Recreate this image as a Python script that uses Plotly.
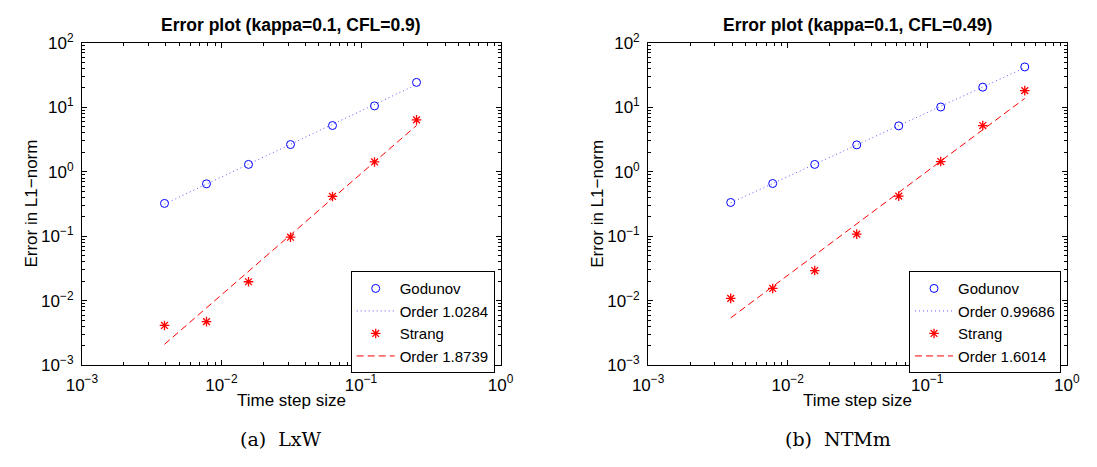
import numpy as np
import plotly.graph_objects as go

# ---------------- data ----------------
dt_lxw = [1/256, 1/128, 1/64, 1/32, 1/16, 1/8, 1/4]
godunov_lxw = [0.323, 0.65, 1.30, 2.64, 5.21, 10.5, 24.3]
strang_lxw = [0.00414, 0.00475, 0.0197, 0.0967, 0.414, 1.42, 6.38]

dt_ntm = [1/256, 1/128, 1/64, 1/32, 1/16, 1/8, 1/4, 1/2]
godunov_ntm = [0.334, 0.658, 1.30, 2.61, 5.15, 10.1, 20.5, 42.2]
strang_ntm = [0.0109, 0.0155, 0.0294, 0.108, 0.419, 1.44, 5.21, 18.1]

titles = ["Error plot (kappa=0.1, CFL=0.9)", "Error plot (kappa=0.1, CFL=0.49)"]
captions = ["(a)&#160;&#160;LxW", "(b)&#160;&#160;NTMm"]
order_labels = [["Order 1.0284", "Order 1.8739"], ["Order 0.99686", "Order 1.6014"]]
tick_vals = [1e-3, 1e-2, 1e-1, 1e0, 1e1, 1e2]
tick_text = ["10<sup>−3</sup>", "10<sup>−2</sup>", "10<sup>−1</sup>",
             "10<sup>0</sup>", "10<sup>1</sup>", "10<sup>2</sup>"]

W, H = 1097, 467
FONT = "Liberation Sans, Arial, sans-serif"
BLUE = "rgb(0,0,255)"
RED = "rgb(255,0,0)"


def fit(x, y):
    c = np.polyfit(np.log10(x), np.log10(y), 1)
    return list(10 ** np.polyval(c, np.log10(x)))


fig = go.Figure()

panels = [
    (dt_lxw, godunov_lxw, strang_lxw),
    (dt_ntm, godunov_ntm, strang_ntm),
]
frames = [(67.7, 497.7), (649.3, 1079.3)]
caption_cx = [272.7, 844.0]
legend_right = [491.7, 1073.4]
top_px, bot_px = 32.3, 370.7

for i, (dt, god, strg) in enumerate(panels):
    xa = "x" if i == 0 else "x2"
    ya = "y" if i == 0 else "y2"
    lg = "legend" if i == 0 else "legend2"
    fig.add_trace(go.Scatter(x=dt, y=fit(dt, god), mode="lines", name=order_labels[i][0],
                             line=dict(color="rgb(90,90,255)", width=1, dash="1px,3px"),
                             xaxis=xa, yaxis=ya, legend=lg, legendrank=2))
    fig.add_trace(go.Scatter(x=dt, y=fit(dt, strg), mode="lines", name=order_labels[i][1],
                             line=dict(color=RED, width=1, dash="7px,4px"), xaxis=xa, yaxis=ya,
                             legend=lg, legendrank=4))
    fig.add_trace(go.Scatter(x=dt, y=god, mode="markers", name="Godunov",
                             marker=dict(symbol="circle-open", size=8, color=BLUE,
                                         line=dict(width=1, color=BLUE)),
                             xaxis=xa, yaxis=ya, legend=lg, legendrank=1))
    fig.add_trace(go.Scatter(x=dt, y=strg, mode="markers", name="Strang",
                             marker=dict(symbol="asterisk-open", size=8, color=RED,
                                         line=dict(width=1.3, color=RED)),
                             xaxis=xa, yaxis=ya, legend=lg, legendrank=3))

axis_common = dict(
    type="log", showline=True, linecolor="black", linewidth=1, mirror="allticks",
    ticks="inside", ticklen=5, tickcolor="black", tickwidth=1,
    showgrid=False, zeroline=False, ticklabelstandoff=4,
    minor=dict(ticks="inside", ticklen=3, tickcolor="black", dtick="D1", showgrid=False),
    tickfont=dict(family=FONT, size=17, color="black"),
)

yd = [1 - bot_px / H, 1 - top_px / H]
for i, (l, r) in enumerate(frames):
    sfx = "" if i == 0 else "2"
    fig.update_layout(**{
        "xaxis" + sfx: dict(axis_common, domain=[l / W, r / W], range=[-3, 0],
                            tickvals=tick_vals[:4], ticktext=tick_text[:4],
                            anchor="y" + sfx),
        "yaxis" + sfx: dict(axis_common, domain=yd, range=[-3, 2],
                            tickvals=tick_vals, ticktext=tick_text,
                            anchor="x" + sfx),
    })

annotations = []
for i, (l, r) in enumerate(frames):
    cx = (l + r) / 2
    annotations.append(dict(x=cx / W, y=1 - 14 / H, xref="paper", yref="paper",
                            text="<b>" + titles[i] + "</b>", showarrow=False,
                            font=dict(family=FONT, size=17.5, color="black"),
                            xanchor="center", yanchor="middle"))
    annotations.append(dict(x=cx / W, y=1 - 408 / H, xref="paper", yref="paper",
                            text="Time step size", showarrow=False,
                            font=dict(family=FONT, size=17, color="black"),
                            xanchor="center", yanchor="middle"))
    annotations.append(dict(x=(l - 52.7) / W, y=1 - 201.5 / H, xref="paper", yref="paper",
                            text="Error in L1−norm", showarrow=False, textangle=-90,
                            font=dict(family=FONT, size=17, color="black"),
                            xanchor="center", yanchor="middle"))
    annotations.append(dict(x=caption_cx[i] / W, y=1 - 448 / H, xref="paper", yref="paper",
                            text=captions[i], showarrow=False,
                            font=dict(family="DejaVu Serif, serif", size=19, color="black"),
                            xanchor="center", yanchor="middle"))

legend_common = dict(
    bgcolor="white", bordercolor="black", borderwidth=1,
    font=dict(family=FONT, size=15, color="black"),
    xanchor="right", yanchor="top", itemwidth=38, tracegroupgap=0,
    traceorder="normal",
)

fig.update_layout(
    width=W, height=H, margin=dict(l=0, r=0, t=0, b=0),
    paper_bgcolor="white", plot_bgcolor="white",
    showlegend=True,
    legend=dict(legend_common, x=legend_right[0] / W, y=1 - 272 / H),
    legend2=dict(legend_common, x=legend_right[1] / W, y=1 - 272 / H),
    annotations=annotations,
)

fig.write_html("out.html")
